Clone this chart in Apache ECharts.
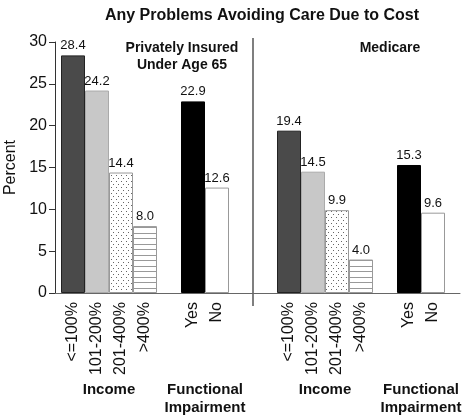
<!DOCTYPE html>
<html>
<head>
<meta charset="utf-8">
<script src="https://cdn.jsdelivr.net/npm/echarts@6/dist/echarts.min.js"></script>
<style>html,body{margin:0;padding:0;background:#fff}#c{width:462px;height:418px}</style>
</head>
<body>
<div id="c"></div>
<script>
// ---- data ----
var incomeCats = ['<=100%', '101-200%', '201-400%', '>400%'];
var funcCats = ['Yes', 'No'];
var privIncome = [28.4, 24.2, 14.4, 8.0];
var privFunc = [22.9, 12.6];
var medIncome = [19.4, 14.5, 9.9, 4.0];
var medFunc = [15.3, 9.6];
var yTicks = [0, 5, 10, 15, 20, 25, 30];

// ---- patterns ----
function dotPattern() {
  var c = document.createElement('canvas'); c.width = 5; c.height = 6;
  var g = c.getContext('2d'); g.fillStyle = '#fff'; g.fillRect(0, 0, 5, 6);
  g.fillStyle = '#666'; g.fillRect(1, 1, 1, 1); g.fillRect(3, 4, 1, 1);
  return { image: c, repeat: 'repeat' };
}
function linePattern() {
  var c = document.createElement('canvas'); c.width = 4; c.height = 11;
  var g = c.getContext('2d'); g.fillStyle = '#fff'; g.fillRect(0, 0, 4, 11);
  g.fillStyle = '#999'; g.fillRect(0, 2, 4, 1); g.fillRect(0, 7, 4, 1);
  return { image: c, repeat: 'repeat' };
}
var incomeStyles = [
  { color: '#4a4a4a', borderColor: '#222', borderWidth: 1 },
  { color: '#c8c8c8', borderColor: '#aaa', borderWidth: 1 },
  { color: dotPattern(), borderColor: '#999', borderWidth: 1 },
  { color: linePattern(), borderColor: '#999', borderWidth: 1 }
];
var funcStyles = [
  { color: '#000', borderColor: '#000', borderWidth: 1 },
  { color: '#fff', borderColor: '#999', borderWidth: 1 }
];

// ---- build category axis (with spacer slots) ----
var cats = [], data = [];
function addGroup(vals, labels, styles) {
  vals.forEach(function (v, i) {
    cats.push(labels[i]);
    data.push({ value: v, itemStyle: styles[i] });
  });
}
function gap() { cats.push(' '.repeat(cats.length + 1)); data.push('-'); }
addGroup(privIncome, incomeCats, incomeStyles); gap();
addGroup(privFunc, funcCats, funcStyles); gap(); gap();
addGroup(medIncome, incomeCats, incomeStyles); gap();
addGroup(medFunc, funcCats, funcStyles);

var FONT = 'Liberation Sans, Arial, Helvetica, sans-serif';
var chart = echarts.init(document.getElementById('c'));
var option = {
  animation: false,
  title: {
    text: 'Any Problems Avoiding Care Due to Cost', left: 257, top: 3, textAlign: 'center',
    textStyle: { fontFamily: FONT, fontSize: 16, fontWeight: 'bold', color: '#111' }
  },
  grid: [
    { left: 55, right: 2, top: 42, bottom: 125, containLabel: false, outerBoundsMode: 'none' },
    { left: 61, width: 384, top: 42, bottom: 125, containLabel: false, outerBoundsMode: 'none' }
  ],
  yAxis: [
    {
      gridIndex: 0, type: 'value', min: yTicks[0], max: yTicks[yTicks.length - 1], interval: 5,
      name: 'Percent', nameLocation: 'middle', nameGap: 36,
      nameTextStyle: { fontFamily: FONT, fontSize: 16, color: '#111' },
      axisLine: { show: true, lineStyle: { color: '#333', width: 1 } },
      axisTick: { show: true, length: 6, lineStyle: { color: '#333' } },
      axisLabel: { fontFamily: FONT, fontSize: 16, color: '#111', margin: 8 },
      splitLine: { show: false }
    },
    { gridIndex: 1, type: 'value', min: yTicks[0], max: yTicks[yTicks.length - 1], show: false }
  ],
  xAxis: [
    {
      gridIndex: 0, type: 'category', data: ['a'],
      axisLine: { show: true, lineStyle: { color: '#666', width: 1 } },
      axisTick: { show: false }, axisLabel: { show: false }
    },
    {
      gridIndex: 1, type: 'category', data: cats,
      axisLine: { show: false }, axisTick: { show: false },
      axisLabel: { rotate: 90, interval: 0, margin: 9, fontFamily: FONT, fontSize: 16, color: '#111' }
    }
  ],
  series: [{
    type: 'bar', xAxisIndex: 1, yAxisIndex: 1, data: data,
    barWidth: '100%', barCategoryGap: 0,
    label: {
      show: true, position: 'top', distance: 3, fontFamily: FONT, fontSize: 13, color: '#111',
      formatter: function (p) { return Number(p.value).toFixed(1); }
    }
  }]
};
chart.setOption(option);

// group labels and divider positioned from the axis scale
function px(i) { return chart.convertToPixel({ xAxisIndex: 1 }, i); }
var y0 = chart.convertToPixel({ yAxisIndex: 0 }, 0);
var divX = (px(7) + px(8)) / 2;
var bold = { fontFamily: FONT, fontSize: 15, fontWeight: 'bold', fill: '#111', textAlign: 'center', textVerticalAlign: 'middle' };
function txt(x, y, s, size) {
  return { type: 'text', x: x, y: y, style: Object.assign({}, bold, { text: s, fontSize: size || 15 }) };
}
chart.setOption({
  graphic: [
    { type: 'line', shape: { x1: divX, y1: 38, x2: divX, y2: y0 + 13 }, style: { stroke: '#555', lineWidth: 1.5 } },
    txt((px(1) + px(2)) / 2, 390, 'Income'),
    txt((px(5) + px(6)) / 2, 390, 'Functional'),
    txt((px(5) + px(6)) / 2, 408, 'Impairment'),
    txt((px(10) + px(11)) / 2, 390, 'Income'),
    txt((px(14) + px(15)) / 2, 390, 'Functional'),
    txt((px(14) + px(15)) / 2, 408, 'Impairment'),
    txt(182, 48, 'Privately Insured', 14),
    txt(182, 65, 'Under Age 65', 14),
    txt(390, 48, 'Medicare', 14)
  ]
});
</script>
</body>
</html>
